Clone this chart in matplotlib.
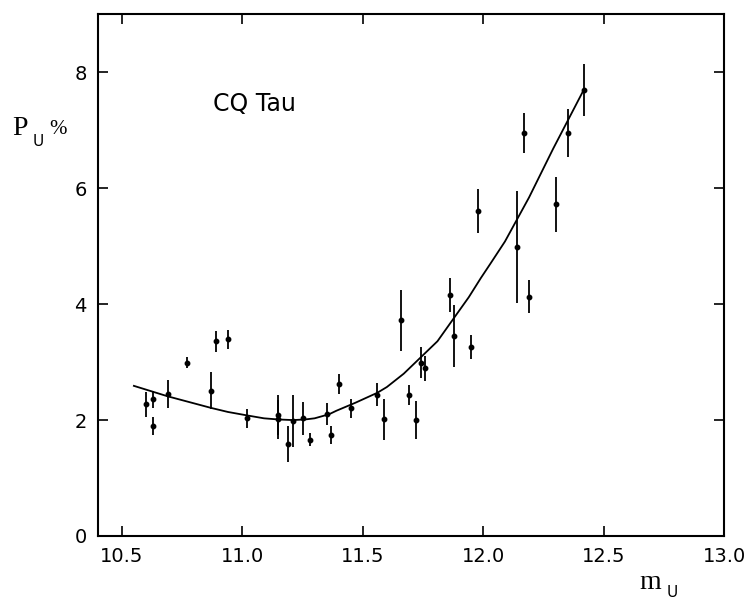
import matplotlib
matplotlib.use("Agg")
import matplotlib.pyplot as plt

# U-band magnitude vs. U-band polarization of CQ Tau
m_u = [10.60, 10.63, 10.63, 10.69, 10.77, 10.87, 10.89, 10.94, 11.02, 11.15,
       11.15, 11.19, 11.21, 11.25, 11.28, 11.35, 11.37, 11.40, 11.45, 11.56,
       11.59, 11.66, 11.69, 11.72, 11.74, 11.76, 11.86, 11.88, 11.95, 11.98,
       12.14, 12.17, 12.19, 12.30, 12.35, 12.42]
p_u = [2.27, 2.36, 1.90, 2.45, 2.99, 2.51, 3.36, 3.39, 2.03, 2.09,
       2.01, 1.59, 1.98, 2.03, 1.66, 2.10, 1.74, 2.62, 2.20, 2.44,
       2.01, 3.72, 2.43, 2.00, 2.99, 2.89, 4.16, 3.45, 3.26, 5.61,
       4.99, 6.95, 4.13, 5.72, 6.95, 7.70]
p_err = [0.22, 0.15, 0.16, 0.24, 0.09, 0.32, 0.18, 0.17, 0.16, 0.35,
         0.33, 0.31, 0.45, 0.28, 0.11, 0.19, 0.16, 0.17, 0.16, 0.20,
         0.36, 0.52, 0.17, 0.33, 0.27, 0.22, 0.29, 0.53, 0.20, 0.38,
         0.97, 0.35, 0.28, 0.47, 0.42, 0.45]

# Fitted trend curve
fit_m = [10.55, 10.62, 10.69, 10.78, 10.87, 10.94, 11.02, 11.09, 11.15, 11.21,
         11.26, 11.30, 11.36, 11.39, 11.47, 11.56, 11.60, 11.67, 11.74, 11.81,
         11.88, 11.94, 11.99, 12.03, 12.09, 12.14, 12.19, 12.24, 12.29, 12.35,
         12.38, 12.415]
fit_p = [2.59, 2.50, 2.41, 2.31, 2.21, 2.14, 2.08, 2.03, 2.01, 2.00,
         2.01, 2.03, 2.10, 2.16, 2.30, 2.47, 2.57, 2.80, 3.08, 3.36,
         3.77, 4.12, 4.45, 4.70, 5.08, 5.46, 5.84, 6.26, 6.68, 7.16,
         7.40, 7.68]

x_ticks = [10.5, 11.0, 11.5, 12.0, 12.5, 13.0]
y_ticks = [0, 2, 4, 6, 8]

fig = plt.figure(figsize=(7.52, 6.04), dpi=100)
ax = fig.add_axes([0.130, 0.1126, 0.833, 0.8637])

ax.errorbar(m_u, p_u, yerr=p_err, fmt='o', color='black', ms=3.2,
            elinewidth=1.3, capsize=0, zorder=3)
ax.plot(fit_m, fit_p, color='black', lw=1.3, zorder=2)

ax.set_xlim(10.4, 13.0)
ax.set_ylim(0, 9)
ax.set_xticks(x_ticks)
ax.set_xticklabels([f"{t:.1f}" for t in x_ticks])
ax.set_yticks(y_ticks)
ax.tick_params(direction='in', length=7, width=1.2, top=True, right=True,
               labelsize=14, pad=8)
for s in ax.spines.values():
    s.set_linewidth(1.5)

ax.text(10.88, 7.46, "CQ Tau", fontsize=17, ha='left', va='center')

# axis labels built from pieces (main letter, subscript, unit)
fig.text(0.016, 0.787, "P", fontsize=20, family='Liberation Serif',
         ha='left', va='center')
fig.text(0.043, 0.766, "U", fontsize=11, ha='left', va='center')
fig.text(0.066, 0.786, "%", fontsize=15, family='Liberation Serif',
         ha='left', va='center')
fig.text(0.850, 0.036, "m", fontsize=20, family='Liberation Serif',
         ha='left', va='center')
fig.text(0.886, 0.019, "U", fontsize=11, ha='left', va='center')

fig.savefig("out.png", dpi=100)
